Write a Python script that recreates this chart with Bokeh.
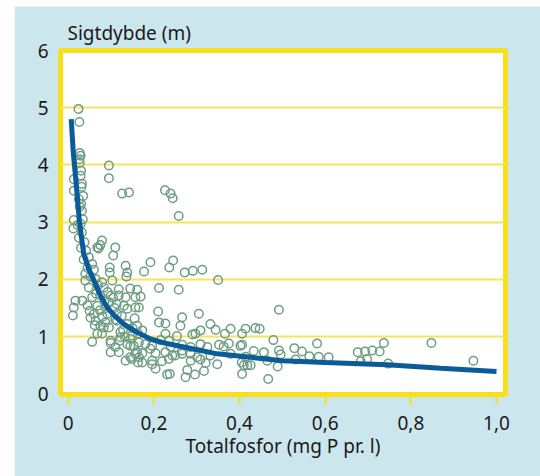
from bokeh.plotting import figure
from bokeh.models import Range1d, FixedTicker
from bokeh.embed import file_html
from bokeh.resources import INLINE

# --- data ---
fosfor = [
    0.024, 0.026, 0.027, 0.029, 0.026, 0.027, 0.030, 0.029, 0.032, 0.013, 0.013, 0.035, 0.025, 0.030, 0.032,
    0.013, 0.012, 0.029, 0.032, 0.025, 0.038, 0.031, 0.027, 0.034, 0.022, 0.030,
    0.095, 0.095, 0.126, 0.142, 0.226, 0.239, 0.244, 0.258,
    0.079, 0.075, 0.068, 0.110, 0.071, 0.105, 0.048, 0.056, 0.040, 0.060, 0.097, 0.097, 0.134, 0.138, 0.136,
    0.040, 0.064, 0.079, 0.083, 0.103, 0.118, 0.145, 0.157, 0.118, 0.134, 0.099, 0.095, 0.113, 0.130, 0.138,
    0.157, 0.075, 0.056, 0.068, 0.074, 0.017, 0.033, 0.013, 0.011, 0.060, 0.091, 0.114, 0.064, 0.087, 0.075,
    0.095, 0.114, 0.138, 0.161, 0.056, 0.079, 0.099, 0.122, 0.120, 0.138, 0.149, 0.163, 0.099, 0.118, 0.134,
    0.149, 0.157, 0.145, 0.163, 0.048,
    0.192, 0.177, 0.245, 0.236, 0.272, 0.291, 0.313, 0.350, 0.212, 0.258, 0.161, 0.169, 0.165, 0.210, 0.266,
    0.305, 0.212, 0.227, 0.262, 0.332, 0.344, 0.379, 0.366, 0.309, 0.290, 0.297, 0.254, 0.227, 0.216, 0.235,
    0.173, 0.165, 0.180, 0.196, 0.266, 0.286, 0.309, 0.352, 0.375, 0.402, 0.406, 0.161, 0.173, 0.196, 0.204,
    0.219, 0.235, 0.243, 0.266, 0.286, 0.309, 0.321, 0.348, 0.204, 0.278, 0.296, 0.317, 0.231, 0.237, 0.274,
    0.406, 0.410,
    0.492, 0.414, 0.437, 0.447, 0.479, 0.406, 0.581, 0.433, 0.457, 0.492, 0.496, 0.528, 0.546, 0.563, 0.585,
    0.608, 0.531, 0.414, 0.465, 0.489, 0.418, 0.426, 0.467, 0.405, 0.737, 0.676, 0.693, 0.710, 0.727, 0.683,
    0.698, 0.747, 0.848, 0.946,
    0.145, 0.165, 0.173, 0.196, 0.122, 0.145, 0.153, 0.192, 0.227, 0.239, 0.250, 0.266, 0.286, 0.301, 0.325,
    0.332, 0.363, 0.379, 0.068, 0.083, 0.110, 0.099,
    0.045, 0.050, 0.052, 0.065, 0.070, 0.085, 0.088, 0.092, 0.105, 0.108, 0.110, 0.125, 0.128, 0.132, 0.150,
    0.155, 0.080, 0.062, 0.045, 0.052, 0.042, 0.036,
]
sigtdybde = [
    4.98, 4.75, 4.21, 4.16, 4.10, 4.04, 3.90, 3.81, 3.67, 3.75, 3.55, 3.46, 3.40, 3.32, 3.20,
    3.04, 2.89, 2.97, 2.82, 2.73, 2.65, 3.62, 3.27, 3.05, 2.95, 2.55,
    3.99, 3.77, 3.50, 3.52, 3.56, 3.50, 3.42, 3.11,
    2.68, 2.60, 2.56, 2.56, 2.54, 2.42, 2.39, 2.27, 2.10, 2.17, 2.21, 2.12, 2.24, 2.12, 2.05,
    1.98, 2.01, 1.95, 1.86, 1.98, 1.83, 1.84, 1.69, 1.72, 1.69, 1.72, 1.60, 1.57, 1.54, 1.49,
    1.51, 1.72, 1.69, 1.54, 1.46, 1.63, 1.63, 1.51, 1.37, 1.40, 1.40, 1.40, 1.28, 1.25, 1.19,
    1.16, 1.28, 1.22, 1.19, 0.91, 1.05, 0.93, 1.08, 0.93, 0.87, 1.02, 1.05, 0.73, 0.73, 0.58,
    0.61, 0.70, 0.84, 0.55, 1.86,
    2.30, 2.14, 2.33, 2.21, 2.12, 2.15, 2.17, 1.99, 1.85, 1.82, 1.82, 1.70, 1.51, 1.44, 1.34,
    1.40, 1.25, 1.23, 1.19, 1.22, 1.12, 1.14, 1.05, 1.11, 1.04, 1.05, 1.01, 1.05, 0.94, 0.93,
    1.11, 0.90, 0.87, 0.84, 0.86, 0.82, 0.87, 0.86, 0.88, 0.84, 1.05, 0.73, 0.71, 0.58, 0.71,
    0.57, 0.61, 0.67, 0.70, 0.58, 0.60, 0.54, 0.52, 0.44, 0.42, 0.34, 0.40, 0.34, 0.35, 0.29,
    0.35, 0.50,
    1.47, 1.14, 1.15, 1.14, 0.94, 0.86, 0.88, 0.75, 0.73, 0.76, 0.69, 0.80, 0.74, 0.66, 0.65,
    0.64, 0.60, 0.65, 0.58, 0.48, 0.50, 0.50, 0.26, 0.55, 0.89, 0.73, 0.74, 0.76, 0.74, 0.57,
    0.61, 0.53, 0.89, 0.58,
    0.64, 0.64, 0.55, 0.52, 0.99, 0.96, 0.84, 0.79, 0.73, 0.82, 0.67, 0.76, 0.70, 0.64, 0.82,
    0.67, 0.83, 0.70, 1.05, 1.16, 0.82, 0.89,
    1.55, 1.45, 1.33, 1.75, 1.90, 1.62, 1.50, 1.78, 1.68, 1.50, 1.30, 1.36, 1.12, 1.00, 1.15,
    1.32, 1.35, 1.20, 2.20, 2.05, 2.50, 2.35,
]

kurve_x = [0.007, 0.012, 0.018, 0.026, 0.036, 0.048, 0.060, 0.075, 0.091, 0.110, 0.130, 0.160, 0.192,
           0.230, 0.270, 0.348, 0.426, 0.500, 0.600, 0.745, 0.870, 1.000]
kurve_y = [4.80, 4.20, 3.72, 3.03, 2.45, 2.18, 1.98, 1.72, 1.51, 1.35, 1.22, 1.08, 0.96,
           0.88, 0.82, 0.70, 0.64, 0.58, 0.55, 0.51, 0.45, 0.39]

x_ticks = [0, 0.2, 0.4, 0.6, 0.8, 1.0]
x_tick_labels = ["0", "0,2", "0,4", "0,6", "0,8", "1,0"]
y_ticks = [0, 1, 2, 3, 4, 5, 6]

FONT = "Noto Sans"
BG = "#cce6ee"
YELLOW = "#f8df1c"
GRID = "#f6e45a"
TXT = "#1a1a1a"

p = figure(width=526, height=470, output_backend="svg", toolbar_location=None,
           x_range=Range1d(-0.018, 1.021), y_range=Range1d(-0.01, 6.0),
           min_border_left=46, min_border_right=35, min_border_top=44, min_border_bottom=82,
           title="Sigtdybde (m)")
p.margin = (6, 0, 0, 14)
p.border_fill_color = BG
p.background_fill_color = "white"
p.outline_line_color = YELLOW
p.outline_line_width = 5

p.title.text_font = FONT
p.title.text_font_size = "19px"
p.title.text_font_style = "normal"
p.title.text_color = TXT
p.title.align = "left"
p.title.offset = 7
p.title.standoff = 9

p.xgrid.grid_line_color = None
p.ygrid.grid_line_color = GRID
p.ygrid.grid_line_width = 2
p.ygrid.ticker = FixedTicker(ticks=[1, 2, 3, 4, 5])

xa = p.xaxis[0]
xa.ticker = FixedTicker(ticks=x_ticks)
xa.major_label_overrides = {t: l for t, l in zip(x_ticks, x_tick_labels)}
xa.axis_line_color = None
xa.major_tick_line_color = YELLOW
xa.major_tick_line_width = 2
xa.major_tick_in = 0
xa.major_tick_out = 10
xa.minor_tick_line_color = None
xa.major_label_standoff = 11
xa.major_label_text_font = FONT
xa.major_label_text_font_size = "19px"
xa.major_label_text_color = TXT
xa.axis_label = "Totalfosfor (mg P pr. l)"
xa.axis_label_text_font = FONT
xa.axis_label_text_font_size = "19px"
xa.axis_label_text_font_style = "normal"
xa.axis_label_text_color = TXT
xa.axis_label_standoff = 0

ya = p.yaxis[0]
ya.ticker = FixedTicker(ticks=y_ticks)
ya.axis_line_color = None
ya.major_tick_line_color = None
ya.minor_tick_line_color = None
ya.major_tick_in = 0
ya.major_tick_out = 0
ya.major_label_standoff = 12
ya.major_label_text_font = FONT
ya.major_label_text_font_size = "19px"
ya.major_label_text_color = TXT

p.scatter(fosfor, sigtdybde, marker="circle", size=8.5, fill_color=None,
          line_color="#6f9e85", line_width=1.5)
p.line(kurve_x, kurve_y, line_color="#0b5b9b", line_width=5)

open("out.html", "w").write(file_html(p, INLINE))
